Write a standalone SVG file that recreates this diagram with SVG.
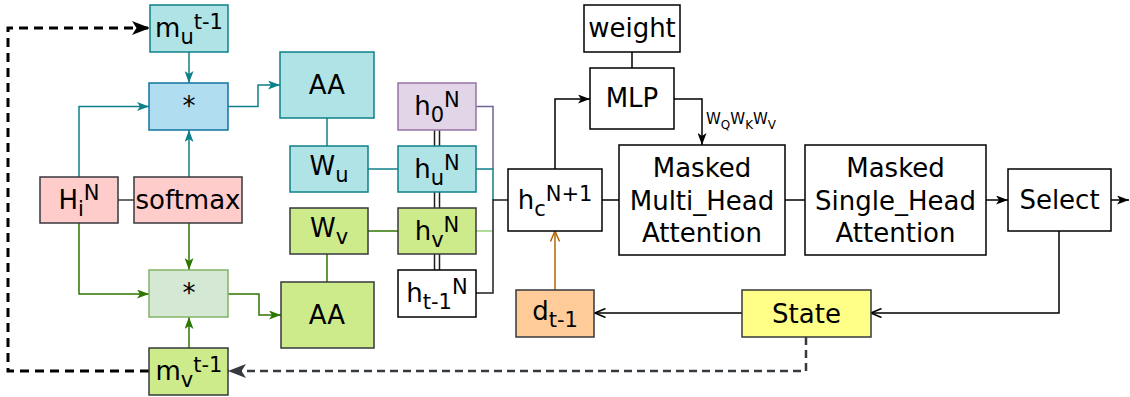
<svg xmlns="http://www.w3.org/2000/svg" width="1130" height="397" viewBox="0 0 1130 397">
  <style>
    rect { stroke-width: 1.5; }
    .teal { fill: #b0e3e6; stroke: #0e8088; }
    .blue { fill: #b1ddf0; stroke: #10739e; }
    .pink { fill: #ffcccc; stroke: #36393d; }
    .mint { fill: #d5e8d4; stroke: #82b366; }
    .lime { fill: #cdeb8b; stroke: #36393d; }
    .lilac { fill: #e1d5e7; stroke: #9673a6; }
    .peach { fill: #ffcc99; stroke: #36393d; }
    .lemon { fill: #ffff88; stroke: #36393d; }
    .plain { fill: #ffffff; stroke: #000000; }
    text { font-family: "DejaVu Sans", Verdana, sans-serif; font-size: 26px; fill: #000; text-anchor: middle; }
    .s { font-size: 21px; }
    .lbl { font-size: 15px; text-anchor: start; }
    .lbl .s { font-size: 12px; }
    .ln { fill: none; stroke-width: 1.5; }
    .loop { fill: none; stroke: #000; stroke-width: 3; stroke-dasharray: 9 6; }
    .loop-grey { fill: none; stroke: #36393d; stroke-width: 2.5; stroke-dasharray: 8 5; }
    .c-teal { stroke: #0e8088; }
    .c-green { stroke: #2d7600; }
    .c-black { stroke: #000000; }
    .c-dark { stroke: #1e1e1e; }
    .c-grey { stroke: #36393d; }
    .c-purple { stroke: #6c6499; }
    .c-pale { stroke: #97d077; }
    .c-orange { stroke: #b46504; }
  </style>
  <defs>
    <marker id="arTeal" markerUnits="userSpaceOnUse" viewBox="0 0 12 9" refX="12" refY="4.5" markerWidth="12" markerHeight="9" orient="auto">
      <path d="M0,0 L12,4.5 L0,9 L3,4.5 z" fill="#0e8088"/>
    </marker>
    <marker id="arGreen" markerUnits="userSpaceOnUse" viewBox="0 0 12 9" refX="12" refY="4.5" markerWidth="12" markerHeight="9" orient="auto">
      <path d="M0,0 L12,4.5 L0,9 L3,4.5 z" fill="#2d7600"/>
    </marker>
    <marker id="arBlack" markerUnits="userSpaceOnUse" viewBox="0 0 12 9" refX="12" refY="4.5" markerWidth="12" markerHeight="9" orient="auto">
      <path d="M0,0 L12,4.5 L0,9 L3,4.5 z" fill="#000"/>
    </marker>
    <marker id="arBigBlack" markerUnits="userSpaceOnUse" viewBox="0 0 18 14" refX="18" refY="7" markerWidth="18" markerHeight="14" orient="auto">
      <path d="M0,0 L18,7 L0,14 L4.5,7 z" fill="#000"/>
    </marker>
    <marker id="arBigGrey" markerUnits="userSpaceOnUse" viewBox="0 0 18 14" refX="18" refY="7" markerWidth="18" markerHeight="14" orient="auto">
      <path d="M0,0 L18,7 L0,14 L4.5,7 z" fill="#36393d"/>
    </marker>
    <marker id="opBlack" markerUnits="userSpaceOnUse" viewBox="0 0 12 10" refX="11" refY="5" markerWidth="12" markerHeight="10" orient="auto">
      <path d="M0.5,0.5 L11,5 L0.5,9.5" fill="none" stroke="#000" stroke-width="1.5"/>
    </marker>
    <marker id="opOrange" markerUnits="userSpaceOnUse" viewBox="0 0 12 10" refX="11" refY="5" markerWidth="12" markerHeight="10" orient="auto">
      <path d="M0.5,0.5 L11,5 L0.5,9.5" fill="none" stroke="#b46504" stroke-width="1.5"/>
    </marker>
  </defs>

  <!-- connectors -->
  <g id="edges">
    <!-- memory feedback loops -->
    <path class="loop" d="M149,371 H8 V28 H150" marker-end="url(#arBigBlack)"/>
    <path class="loop-grey" d="M806,337 V371 H228" marker-end="url(#arBigGrey)"/>

    <!-- upper (u) branch -->
    <path class="ln c-teal" d="M189,52 V83" marker-end="url(#arTeal)"/>
    <path class="ln c-teal" d="M79,177 V106.5 H149" marker-end="url(#arTeal)"/>
    <path class="ln c-teal" d="M189,177 V130" marker-end="url(#arTeal)"/>
    <path class="ln c-teal" d="M228,106.5 H258 V85 H280" marker-end="url(#arTeal)"/>
    <path class="ln c-teal" d="M327,118 V146"/>
    <path class="ln c-teal" d="M368,169 H398"/>

    <!-- lower (v) branch -->
    <path class="ln c-green" d="M79,223 V294 H149" marker-end="url(#arGreen)"/>
    <path class="ln c-green" d="M189,223 V270" marker-end="url(#arGreen)"/>
    <path class="ln c-green" d="M189,348 V317" marker-end="url(#arGreen)"/>
    <path class="ln c-green" d="M228,294 H259 V315 H281" marker-end="url(#arGreen)"/>
    <path class="ln c-green" d="M327,254 V282"/>
    <path class="ln c-green" d="M368,231 H398"/>

    <!-- H_i to softmax -->
    <path class="ln c-grey" d="M118,200 H134"/>

    <!-- stacked hidden states (double links) -->
    <path class="ln c-dark" d="M434.5,130 V146 M439.5,130 V146 M434.5,192 V208 M439.5,192 V208 M434.5,254 V270 M439.5,254 V270"/>

    <!-- bus into h_c -->
    <path class="ln c-purple" d="M476,106.5 H493 V169"/>
    <path class="ln c-teal" d="M476,169 H493 V200"/>
    <path class="ln c-dark" d="M476,293 H493 V200 H508"/>
    <path class="ln c-pale" d="M476,231 H492"/>

    <!-- decoder path -->
    <path class="ln c-black" d="M555,169 V99 H590" marker-end="url(#arBlack)"/>
    <path class="ln c-black" d="M632,52 V68"/>
    <path class="ln c-black" d="M674,99 H702 V145" marker-end="url(#arBlack)"/>
    <path class="ln c-black" d="M602,200 H619"/>
    <path class="ln c-black" d="M785,200 H805"/>
    <path class="ln c-black" d="M986,200 H1008" marker-end="url(#arBlack)"/>
    <path class="ln c-black" d="M1111,200 H1129" marker-end="url(#arBlack)"/>
    <path class="ln c-black" d="M1059,231 V313 H871" marker-end="url(#opBlack)"/>
    <path class="ln c-black" d="M742,313 H595" marker-end="url(#opBlack)"/>
    <path class="ln c-orange" d="M555,290 V231" marker-end="url(#opOrange)"/>

    <text class="lbl" x="706" y="124">W<tspan class="s" dy="5">Q</tspan><tspan dy="-5">W</tspan><tspan class="s" dy="5">K</tspan><tspan dy="-5">W</tspan><tspan class="s" dy="5">V</tspan></text>
  </g>

  <!-- nodes -->
  <g id="m_u">
    <rect class="teal" x="150" y="5" width="78" height="47"/>
    <text x="189" y="37">m<tspan class="s" dy="7">u</tspan><tspan class="s" dy="-15">t-1</tspan></text>
  </g>
  <g id="mul_u">
    <rect class="blue" x="149" y="83" width="79" height="47"/>
    <text x="189" y="115">*</text>
  </g>
  <g id="H_i">
    <rect class="pink" x="40" y="177" width="78" height="46"/>
    <text x="79" y="209">H<tspan class="s" dy="7">i</tspan><tspan class="s" dy="-16">N</tspan></text>
  </g>
  <g id="softmax">
    <rect class="pink" x="134" y="177" width="108" height="46"/>
    <text x="188" y="209">softmax</text>
  </g>
  <g id="mul_v">
    <rect class="mint" x="149" y="270" width="79" height="47"/>
    <text x="189" y="302">*</text>
  </g>
  <g id="m_v">
    <rect class="lime" x="149" y="348" width="79" height="47"/>
    <text x="189" y="380">m<tspan class="s" dy="7">v</tspan><tspan class="s" dy="-15">t-1</tspan></text>
  </g>
  <g id="AA_u">
    <rect class="teal" x="280" y="52" width="94" height="66"/>
    <text x="327" y="94">AA</text>
  </g>
  <g id="AA_v">
    <rect class="lime" x="281" y="282" width="93" height="66"/>
    <text x="327" y="324">AA</text>
  </g>
  <g id="W_u">
    <rect class="teal" x="290" y="146" width="78" height="46"/>
    <text x="329" y="175">W<tspan class="s" dy="7">u</tspan></text>
  </g>
  <g id="W_v">
    <rect class="lime" x="290" y="208" width="78" height="46"/>
    <text x="329" y="237">W<tspan class="s" dy="7">v</tspan></text>
  </g>
  <g id="h_0">
    <rect class="lilac" x="398" y="83" width="78" height="47"/>
    <text x="437" y="115">h<tspan class="s" dy="7">0</tspan><tspan class="s" dy="-15">N</tspan></text>
  </g>
  <g id="h_u">
    <rect class="teal" x="398" y="146" width="78" height="46"/>
    <text x="437" y="178">h<tspan class="s" dy="7">u</tspan><tspan class="s" dy="-15">N</tspan></text>
  </g>
  <g id="h_v">
    <rect class="lime" x="398" y="208" width="78" height="46"/>
    <text x="437" y="240">h<tspan class="s" dy="7">v</tspan><tspan class="s" dy="-15">N</tspan></text>
  </g>
  <g id="h_prev">
    <rect class="plain" x="398" y="270" width="78" height="47"/>
    <text x="437" y="302">h<tspan class="s" dy="7">t-1</tspan><tspan class="s" dy="-15">N</tspan></text>
  </g>
  <g id="h_c">
    <rect class="plain" x="508" y="169" width="94" height="62"/>
    <text x="555" y="209">h<tspan class="s" dy="7">c</tspan><tspan class="s" dy="-15">N+1</tspan></text>
  </g>
  <g id="weight">
    <rect class="plain" x="584" y="5" width="96" height="47"/>
    <text x="632" y="37">weight</text>
  </g>
  <g id="MLP">
    <rect class="plain" x="590" y="68" width="84" height="61"/>
    <text x="632" y="107">MLP</text>
  </g>
  <g id="multi_head">
    <rect class="plain" x="619" y="145" width="166" height="110"/>
    <text x="702" y="177">Masked</text>
    <text x="702" y="209.5">Multi_Head</text>
    <text x="702" y="242">Attention</text>
  </g>
  <g id="single_head">
    <rect class="plain" x="805" y="145" width="181" height="110"/>
    <text x="895.5" y="177">Masked</text>
    <text x="895.5" y="209.5">Single_Head</text>
    <text x="895.5" y="242">Attention</text>
  </g>
  <g id="select">
    <rect class="plain" x="1008" y="169" width="103" height="62"/>
    <text x="1059.5" y="209">Select</text>
  </g>
  <g id="state">
    <rect class="lemon" x="742" y="290" width="129" height="47"/>
    <text x="806.5" y="323">State</text>
  </g>
  <g id="d_prev">
    <rect class="peach" x="516" y="290" width="78" height="47"/>
    <text x="555" y="320">d<tspan class="s" dy="7">t-1</tspan></text>
  </g>
</svg>
